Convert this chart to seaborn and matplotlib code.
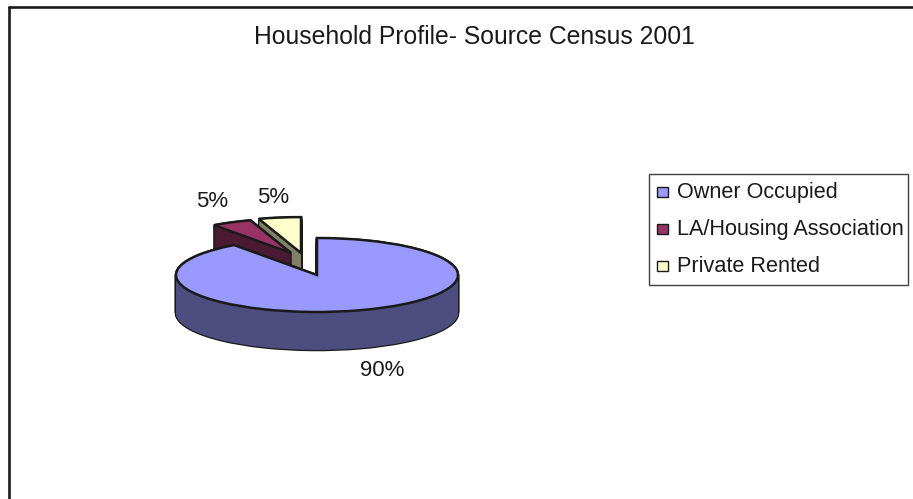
import numpy as np
import seaborn as sns
import matplotlib.pyplot as plt
from matplotlib.lines import Line2D
from matplotlib.patches import Rectangle

labels = ["Owner Occupied", "LA/Housing Association", "Private Rented"]
shares = [90, 5, 5]
top_colors = ["#9999FF", "#993366", "#FFFFCC"]
side_colors = ["#4D4D80", "#4D1A33", "#808066"]
title_text = "Household Profile- Source Census 2001"

sns.set_theme(style="white")
plt.rcParams["font.family"] = ["Liberation Sans", "DejaVu Sans"]

W, H = 913, 499
CX, CY = 317, 275
RX, RY = 141, 37
DEPTH = 38 / RY

fig = plt.figure(figsize=(W / 100, H / 100), dpi=100, facecolor="white")

# pie axes: one data unit is the pie radius, squashed to look tilted
ax = fig.add_axes([0, 0, 1, 1])


def draw_slice(i, cx, cy, zbase, radius=1):
    # side wall is a stack of shifted copies, black ones first so only the outline shows
    offsets = np.arange(DEPTH, 0, -0.02)
    for off in offsets:
        w, _ = ax.pie(shares, startangle=90, counterclock=False, center=(cx, cy - off), radius=radius,
                      colors=["k"] * 3, wedgeprops={"linewidth": 1.8, "edgecolor": "k"})
        for j, wedge in enumerate(w):
            wedge.set_zorder(zbase)
            wedge.set_visible(j == i)
    for off in offsets:
        w, _ = ax.pie(shares, startangle=90, counterclock=False, center=(cx, cy - off), radius=radius,
                      colors=[side_colors[i]] * 3, wedgeprops={"linewidth": 0})
        for j, wedge in enumerate(w):
            wedge.set_zorder(zbase + 1)
            wedge.set_visible(j == i)
    w, _ = ax.pie(shares, startangle=90, counterclock=False, center=(cx, cy), radius=radius,
                  colors=[top_colors[i]] * 3, wedgeprops={"linewidth": 1.8, "edgecolor": "k"})
    for j, wedge in enumerate(w):
        wedge.set_zorder(zbase + 2)
        wedge.set_visible(j == i)


# back slices first, the big one covers their feet
draw_slice(2, -16 / RX, 22 / RY, 2, radius=0.97)
draw_slice(1, -26 / RX, 22 / RY, 6, radius=0.93)
draw_slice(0, 0, 0, 10)

ax.set_aspect("auto")
ax.set_xlim(-CX / RX, (W - CX) / RX)
ax.set_ylim((CY - H) / RY, CY / RY)
ax.axis("off")


def px(x, y):
    return x / W, 1 - y / H


# only the top and left of the chart frame are inside the crop
for xs, ys in [((8.5, W), (6.5, 6.5)), ((8.5, 8.5), (6.5, H))]:
    x0, y0 = px(xs[0], ys[0])
    x1, y1 = px(xs[1], ys[1])
    fig.add_artist(Line2D([x0, x1], [y0, y1], transform=fig.transFigure, color="k", linewidth=1.9))

fig.text(*px(474, 36.5), title_text, ha="center", va="center", fontsize=17.8, color="k")

pct = [f"{s}%" for s in shares]
fig.text(*px(382, 370), pct[0], ha="center", va="center", fontsize=16, color="k")
fig.text(*px(212, 201), pct[1], ha="center", va="center", fontsize=16, color="k")
fig.text(*px(273, 197), pct[2], ha="center", va="center", fontsize=16, color="k")

# legend box
fig.add_artist(Rectangle(px(649, 285), 259 / W, 111 / H, transform=fig.transFigure,
                         facecolor="white", edgecolor="#404040", linewidth=1))
for name, color, y in zip(labels, top_colors, [192, 229, 266]):
    fig.add_artist(Rectangle(px(657, y + 5), 11 / W, 10 / H, transform=fig.transFigure,
                             facecolor=color, edgecolor="k", linewidth=1))
    fig.text(*px(677, y + 0.5), name, ha="left", va="center", fontsize=15.6, color="k")

fig.savefig("out.png", dpi=100, facecolor="white")
